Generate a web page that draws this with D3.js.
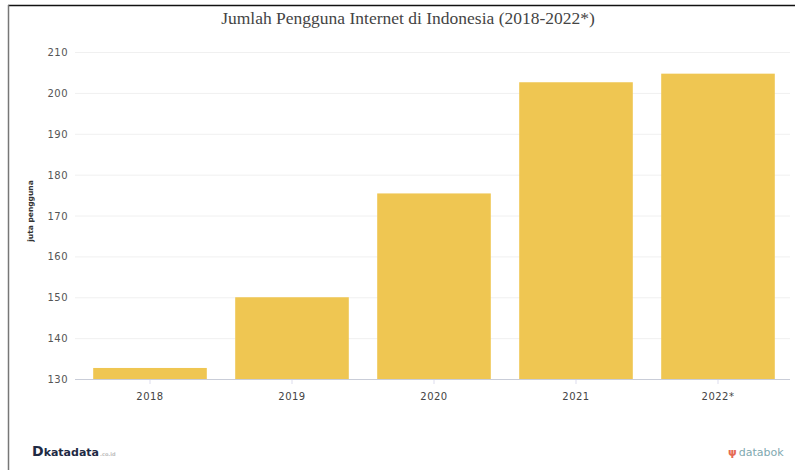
<!DOCTYPE html>
<html>
<head>
<meta charset="utf-8">
<script src="https://cdn.jsdelivr.net/npm/d3@7"></script>
<style>
  body { margin: 0; background: #fff; }
  svg { display: block; }
</style>
</head>
<body>
<div id="chart"></div>
<script>
// Chart data
var years = ['2018', '2019', '2020', '2021', '2022*'];
var users = [132.7, 150, 175.4, 202.6, 204.7];
var yTicks = [130, 140, 150, 160, 170, 180, 190, 200, 210];

var W = 795, H = 470;
var svg = d3.select('#chart').append('svg')
  .attr('width', W)
  .attr('height', H);

// Frame lines (top and left)
svg.append('line')
  .attr('x1', 8).attr('x2', W).attr('y1', 5.5).attr('y2', 5.5)
  .attr('stroke', '#111').attr('stroke-width', 1.5);
svg.append('line')
  .attr('x1', 8.5).attr('x2', 8.5).attr('y1', 5).attr('y2', H)
  .attr('stroke', '#777').attr('stroke-width', 1.5);

var x = d3.scaleBand()
  .domain(years)
  .range([79, 789])
  .paddingInner(0.2)
  .paddingOuter(0.1);

var y = d3.scaleLinear()
  .domain([130, 210])
  .range([379, 52]);

// Gridlines
svg.append('g')
  .selectAll('line')
  .data(yTicks)
  .join('line')
    .attr('x1', 75)
    .attr('x2', 790)
    .attr('y1', function(d) { return y(d) + 0.5; })
    .attr('y2', function(d) { return y(d) + 0.5; })
    .attr('stroke', function(d) { return d === 130 ? '#c9cdd8' : '#f0f0f0'; })
    .attr('stroke-width', 1);

// Y tick labels
svg.append('g')
  .selectAll('text')
  .data(yTicks)
  .join('text')
    .attr('x', 68)
    .attr('y', function(d) { return y(d) + 4; })
    .attr('text-anchor', 'end')
    .style('font-family', 'DejaVu Sans, Verdana, sans-serif')
    .style('font-size', '10px')
    .style('fill', '#555')
    .style('letter-spacing', '0.5px')
    .text(function(d) { return d; });

// Bars
svg.append('g')
  .selectAll('rect')
  .data(users)
  .join('rect')
    .attr('x', function(d, i) { return x(years[i]); })
    .attr('y', function(d) { return y(d); })
    .attr('width', x.bandwidth())
    .attr('height', function(d) { return y(130) - y(d); })
    .attr('fill', '#EFC652');

// X axis ticks + labels
var xg = svg.append('g');
xg.selectAll('line')
  .data(years)
  .join('line')
    .attr('x1', function(d) { return x(d) + x.bandwidth() / 2; })
    .attr('x2', function(d) { return x(d) + x.bandwidth() / 2; })
    .attr('y1', 380).attr('y2', 384)
    .attr('stroke', '#dde');
xg.selectAll('text')
  .data(years)
  .join('text')
    .attr('x', function(d) { return x(d) + x.bandwidth() / 2; })
    .attr('y', 400)
    .attr('text-anchor', 'middle')
    .style('font-family', 'DejaVu Sans, Verdana, sans-serif')
    .style('font-size', '10px')
    .style('fill', '#444')
    .style('letter-spacing', '0.5px')
    .text(function(d) { return d; });

// Title
svg.append('text')
  .attr('x', 408)
  .attr('y', 24)
  .attr('text-anchor', 'middle')
  .style('font-family', 'Liberation Serif, DejaVu Serif, serif')
  .style('font-size', '17.5px')
  .style('fill', '#444')
  .text('Jumlah Pengguna Internet di Indonesia (2018-2022*)');

// Y axis title
svg.append('text')
  .attr('transform', 'translate(33,211) rotate(-90)')
  .attr('text-anchor', 'middle')
  .style('font-family', 'DejaVu Sans, sans-serif')
  .style('font-size', '7.5px')
  .style('font-weight', 'bold')
  .style('fill', '#333')
  .text('juta pengguna');

// Logos
var kd = svg.append('text')
  .attr('x', 32)
  .attr('y', 456)
  .style('font-family', 'DejaVu Sans, sans-serif')
  .style('font-weight', 'bold')
  .style('fill', '#1f2a44');
kd.append('tspan').style('font-size', '14px').text('D');
kd.append('tspan').style('font-size', '11px').text('katadata');
kd.append('tspan').style('font-size', '5px').style('fill', '#bbb').attr('dx', 1).text('.co.id');

var db = svg.append('text')
  .attr('x', 728)
  .attr('y', 456)
  .style('font-family', 'DejaVu Sans, sans-serif')
  .style('font-size', '11px');
db.append('tspan').style('fill', '#e56a54').style('font-weight', 'bold').text('\u03C8');
db.append('tspan').attr('dx', 2).style('fill', '#7fa9b0').text('databok');
</script>
</body>
</html>
